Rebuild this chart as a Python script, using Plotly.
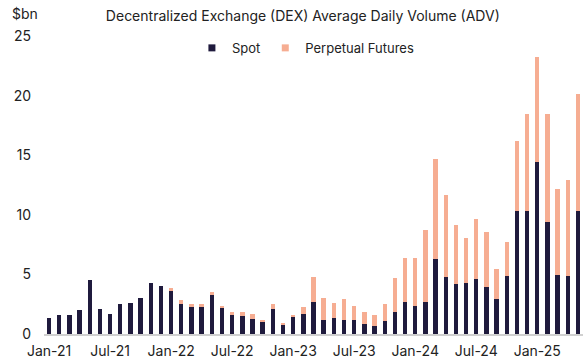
import plotly.graph_objects as go

months = []
for y in range(21, 26):
    for m in ["Jan", "Feb", "Mar", "Apr", "May", "Jun", "Jul", "Aug", "Sep", "Oct", "Nov", "Dec"]:
        months.append(f"{m}-{y}")
months = months[:53]  # Jan-21 .. May-25

spot = [1.33, 1.58, 1.58, 2.0, 4.5, 2.08, 1.67, 2.5, 2.61, 3.06,
        4.25, 4.0,
        3.61, 2.53, 2.28, 2.28, 3.25, 2.19, 1.58, 1.53, 1.28, 1.0, 2.11, 0.81,
        1.39, 1.67, 2.69, 1.19, 1.33, 1.19, 1.15, 0.83, 0.67, 1.06, 1.86, 2.69,
        2.36, 2.69, 6.28, 4.78, 4.18, 4.28, 4.61, 3.94, 2.94, 4.86, 10.28, 10.36,
        14.39, 9.42, 4.92, 4.83, 10.33]

total = [1.33, 1.58, 1.58, 2.0, 4.5, 2.08, 1.67, 2.5, 2.61, 3.06,
         4.25, 4.0,
         3.89, 2.83, 2.53, 2.53, 3.53, 2.39, 1.83, 1.83, 1.67, 1.19, 2.53, 0.85,
         1.58, 2.25, 4.75, 3.03, 2.61, 2.97, 2.33, 1.83, 1.58, 2.5, 4.67, 6.39,
         6.39, 8.69, 14.69, 11.67, 9.17, 8.06, 9.67, 8.56, 5.44, 7.72, 16.22, 18.42,
         23.22, 18.42, 12.17, 12.92, 20.17]

futures = [round(t - s, 2) for t, s in zip(total, spot)]

tick_labels = months[::6]

SPOT_COLOR = "#1f1a3d"
FUT_COLOR = "#f6ad92"
FONT = "Inter, Lato, sans-serif"
TXT = "#222222"

fig = go.Figure()
fig.add_trace(go.Bar(x=months, y=spot, name="Spot", marker_color=SPOT_COLOR,
                     marker_line_width=0, showlegend=False))
fig.add_trace(go.Bar(x=months, y=futures, name="Perpetual Futures",
                     marker_color=FUT_COLOR, marker_line_width=0, showlegend=False))
# legend entries with small square symbols
fig.add_trace(go.Scatter(x=[None], y=[None], mode="markers", name="Spot",
                         marker=dict(symbol="square", size=7, color=SPOT_COLOR)))
fig.add_trace(go.Scatter(x=[None], y=[None], mode="markers", name="Perpetual Futures",
                         marker=dict(symbol="square", size=7, color=FUT_COLOR)))

fig.update_layout(
    barmode="stack",
    bargap=0.57,
    width=588, height=364,
    margin=dict(l=44, r=5, t=36, b=28),
    paper_bgcolor="white", plot_bgcolor="white",
    font=dict(family=FONT, size=14, color=TXT),
    title=dict(text="Decentralized Exchange (DEX) Average Daily Volume (ADV)",
               x=0.515, xanchor="center", y=0.955, yanchor="middle",
               font=dict(size=14, color=TXT, family=FONT)),
    legend=dict(orientation="h", x=0.485, xanchor="center", y=0.96, yanchor="middle",
                font=dict(size=13, color=TXT), bgcolor="rgba(0,0,0,0)",
                itemwidth=30, traceorder="normal"),
    showlegend=True,
)
fig.update_xaxes(type="category", tickmode="array", tickvals=tick_labels,
                 ticktext=tick_labels, showgrid=False, showline=True,
                 linecolor="#d0d0d0", linewidth=1.5, ticks="",
                 tickfont=dict(size=14, color=TXT), tickangle=0,
                 ticklabelstandoff=3,
                 range=[-0.5, 52.5])
fig.update_yaxes(range=[0, 25], tickvals=[0, 5, 10, 15, 20, 25], showgrid=False,
                 zeroline=False, showline=False, ticks="",
                 ticklabelstandoff=12,
                 tickfont=dict(size=14, color=TXT))
fig.add_annotation(text="$bn", xref="paper", yref="paper", x=-0.064, y=1.075,
                   xanchor="left", yanchor="middle", showarrow=False,
                   font=dict(size=14, color=TXT))

fig.write_html("out.html", config={"displayModeBar": False},
               post_script="document.body.style.margin='0';document.body.style.padding='0';")
